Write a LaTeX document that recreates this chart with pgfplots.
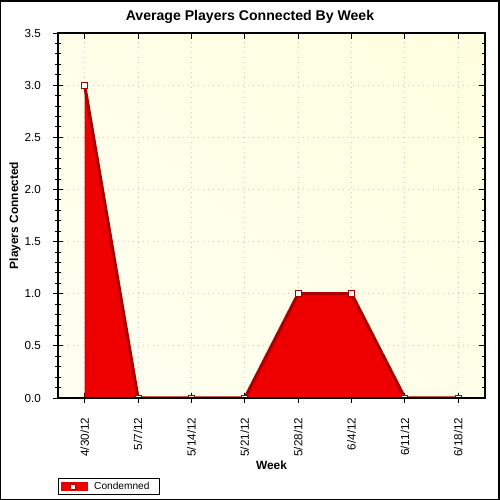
\documentclass[border=0pt]{standalone}
\usepackage{pgfplots}
\pgfplotsset{compat=1.18}
\usepackage{fontspec}
\setmainfont{Liberation Sans}
\definecolor{areared}{RGB}{238,0,0}
\definecolor{linered}{RGB}{170,0,0}
\definecolor{gridgray}{RGB}{200,200,200}
\pgfdeclarefunctionalshading{diagbg}{\pgfpoint{0bp}{0bp}}{\pgfpoint{100bp}{100bp}}{}{
  add 200 div 0.145 mul 0.985 exch sub 1 1 3 -1 roll
}
\begin{document}
\begin{tikzpicture}
\useasboundingbox (0,0) rectangle (360pt,360pt);
\fill[white] (0,0) rectangle (360pt,360pt);
\node[font=\bfseries\fontsize{10.15}{12}\selectfont] at (180pt,347.8pt) {Average Players Connected By Week};
\begin{axis}[
 at={(41.76pt,73.44pt)}, anchor=south west,
 scale only axis, width=307.44pt, height=262.8pt,
 xmin=-0.5, xmax=7.5, ymin=0, ymax=3.5,
 xtick={0,...,7},
 xticklabels={4/30/12,5/7/12,5/14/12,5/21/12,5/28/12,6/4/12,6/11/12,6/18/12},
 ytick={0,0.5,...,3.5},
 minor y tick num=4,
 xtick pos=left, ytick pos=left,
 tick align=center,
 major tick length=7.2pt, minor tick length=4.3pt,
 every tick/.style={black, line width=0.72pt},
 axis line style={line width=0.9pt},
 grid=major,
 major grid style={gridgray, line width=0.72pt, dash pattern=on 0.72pt off 2.88pt},
 axis background/.style={shade, shading=diagbg},
 tick label style={font=\fontsize{8.4}{10}\selectfont},
 /pgf/number format/assume math mode=true,
 yticklabel style={/pgf/number format/fixed, /pgf/number format/fixed zerofill, /pgf/number format/precision=1, inner sep=0pt},
 yticklabel shift=8.6pt,
 xticklabel style={rotate=90, anchor=east, inner sep=0pt},
 xticklabel shift=10.4pt,
 xlabel={Week}, ylabel={Players Connected},
 label style={font=\bfseries\fontsize{8.6}{10}\selectfont},
 xlabel style={at={(axis description cs:0.5,-0.183)}, anchor=center},
 ylabel style={at={(axis description cs:-0.1007,0.5)}, anchor=center},
 clip marker paths=true,
 legend style={at={(axis description cs:0,-0.219)}, anchor=north west, draw=black, line width=0.72pt,
   font=\fontsize{7.3}{8.5}\selectfont, inner xsep=2pt, inner ysep=0.5pt,
   /tikz/every odd column/.append style={column sep=2.5pt}},
 legend cell align=left,
 legend image code/.code={
   \fill[areared] (0pt,-2.2pt) rectangle (17pt,2.2pt);
   \draw[linered, line width=0.72pt] (0pt,2.2pt) -- (17pt,2.2pt);
   \draw[linered, line width=0.6pt, fill=white] (5.5pt,-1.8pt) rectangle (9.1pt,1.8pt);
 },
]
\addplot[draw=none, fill=areared, forget plot] coordinates {(0,3)(1,0)(2,0)(3,0)(4,1)(5,1)(6,0)(7,0)} \closedcycle;
\addplot[linered, line width=2.2pt, mark=square*, mark size=2.16pt,
  mark options={fill=white, draw=linered, line width=0.72pt}]
  coordinates {(0,3)(1,0)(2,0)(3,0)(4,1)(5,1)(6,0)(7,0)};
\addlegendentry{Condemned\hspace*{3pt}}
\end{axis}
\begin{axis}[
 at={(41.76pt,73.44pt)}, anchor=south west,
 scale only axis, width=307.44pt, height=262.8pt,
 xmin=-0.5, xmax=7.5, ymin=0, ymax=3.5,
 xtick={0,...,7}, ytick={0,0.5,...,3.5}, minor y tick num=4,
 xticklabels={}, yticklabels={},
 xtick pos=right, ytick pos=right,
 tick align=inside,
 major tick length=4pt, minor tick length=2.5pt,
 every tick/.style={black, line width=0.72pt},
 axis line style={line width=0.9pt},
]
\end{axis}
\draw[black, line width=1.08pt] (0.54pt,0.54pt) rectangle (359.46pt,359.46pt);
\end{tikzpicture}
\end{document}
